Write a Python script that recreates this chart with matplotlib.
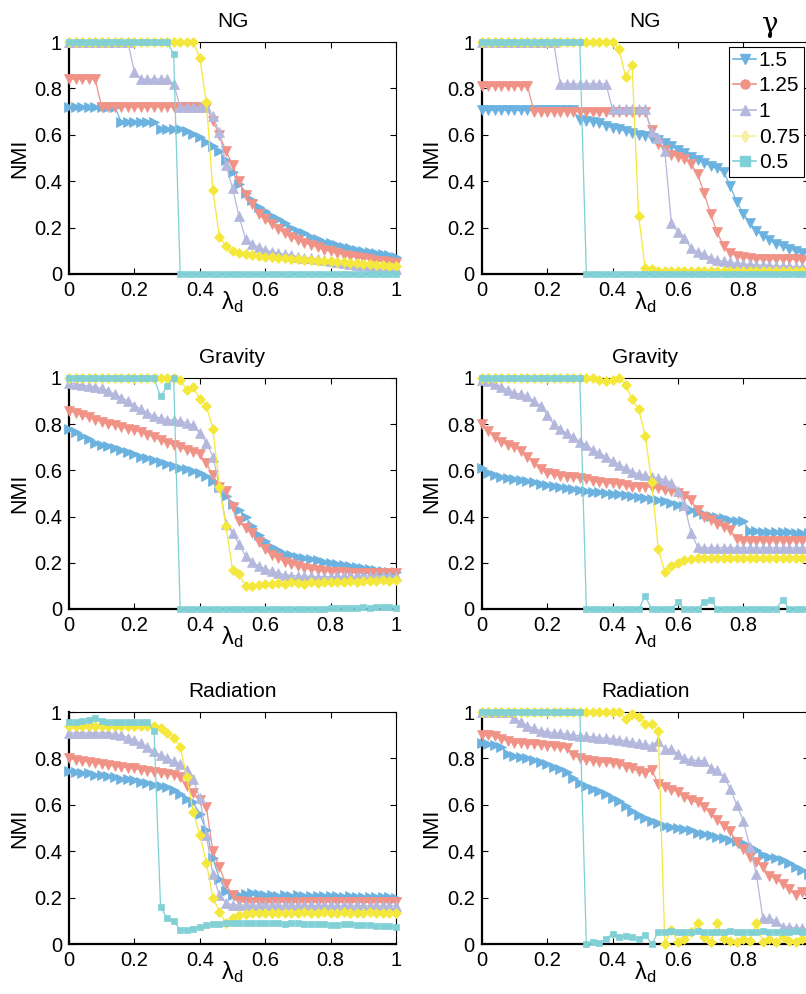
import numpy as np
import matplotlib
matplotlib.use('Agg')
import matplotlib.pyplot as plt
from matplotlib.lines import Line2D

plt.rcParams['font.family'] = ['Liberation Sans', 'DejaVu Sans']
plt.rcParams['mathtext.fontset'] = 'custom'
plt.rcParams['mathtext.rm'] = 'Liberation Sans'
plt.rcParams['mathtext.it'] = 'Liberation Sans'

# ---------------- data ----------------
lam = np.linspace(0, 1, 51)
gammas = ['1.5', '1.25', '1', '0.75', '0.5']
colors = ['#6cb2e0', '#f09286', '#b4b8dc', '#f5e83c', '#80d0d6']
tick_vals = [0, 0.2, 0.4, 0.6, 0.8, 1]
tick_labels = ['0', '0.2', '0.4', '0.6', '0.8', '1']
titles = ['NG', 'NG', 'Gravity', 'Gravity', 'Radiation', 'Radiation']

# NG, left
ng_l_15 = [0.72,0.72,0.72,0.72,0.72,0.72,0.72,0.72,0.655,0.655,0.655,0.655,0.655,0.655,
           0.625,0.625,0.625,0.625,0.615,0.605,0.59,0.57,0.55,0.53,0.49,0.44,0.39,0.35,
           0.32,0.29,0.27,0.25,0.235,0.22,0.2,0.185,0.175,0.16,0.15,0.14,0.132,0.125,0.118,
           0.112,0.105,0.1,0.095,0.09,0.085,0.08,0.075]
ng_l_125 = [0.84,0.84,0.84,0.84,0.84,0.72,0.72,0.72,0.72,0.72,0.72,0.72,0.72,0.72,0.72,
            0.72,0.72,0.72,0.72,0.72,0.72,0.72,0.66,0.60,0.53,0.47,0.40,0.34,0.30,0.26,
            0.235,0.215,0.195,0.175,0.16,0.145,0.135,0.125,0.115,0.105,0.097,0.09,0.083,
            0.077,0.072,0.068,0.063,0.058,0.054,0.05,0.046]
ng_l_1 = [1.0,1.0,1.0,1.0,1.0,1.0,1.0,1.0,1.0,1.0,0.87,0.84,0.84,0.84,0.84,0.84,0.82,
          0.72,0.72,0.72,0.72,0.72,0.68,0.61,0.47,0.37,0.25,0.15,0.13,0.115,0.105,0.095,
          0.09,0.085,0.08,0.075,0.07,0.068,0.065,0.06,0.055,0.05,0.047,0.044,0.04,0.037,
          0.034,0.03,0.028,0.025,0.022]
ng_l_075 = [1.0,1.0,1.0,1.0,1.0,1.0,1.0,1.0,1.0,1.0,1.0,1.0,1.0,1.0,1.0,1.0,1.0,1.0,1.0,1.0,
            0.93,0.74,0.36,0.16,0.12,0.10,0.09,0.085,0.08,0.078,0.075,0.072,0.07,0.068,
            0.066,0.064,0.062,0.06,0.058,0.056,0.054,0.052,0.05,0.048,0.046,0.044,0.042,
            0.04,0.038,0.036,0.034]
ng_l_05 = [1.0,1.0,1.0,1.0,1.0,1.0,1.0,1.0,1.0,1.0,1.0,1.0,1.0,1.0,1.0,1.0,0.95,
           0,0,0,0,0,0,0,0,0,0,0,0,0,0,0,0,0,0,0,0,0,0,0,0,0,0,0,0,0,0,0,0,0,0]

# NG, right
ng_r_15 = [0.705,0.705,0.705,0.705,0.705,0.705,0.705,0.705,0.705,0.705,0.705,0.705,0.705,
           0.705,0.705,0.665,0.66,0.655,0.65,0.64,0.63,0.625,0.615,0.607,0.6,0.595,0.588,
           0.578,0.566,0.55,0.535,0.52,0.505,0.493,0.48,0.465,0.455,0.44,0.38,0.31,0.26,
           0.22,0.185,0.165,0.145,0.13,0.12,0.108,0.1,0.092,0.085]
ng_r_125 = [0.81,0.81,0.81,0.81,0.81,0.81,0.81,0.81,0.70,0.70,0.70,0.70,0.70,0.70,0.70,0.70,
            0.70,0.70,0.70,0.70,0.70,0.70,0.70,0.70,0.70,0.70,0.62,0.56,0.535,0.515,0.505,
            0.495,0.475,0.43,0.35,0.26,0.18,0.12,0.09,0.078,0.072,0.068,0.066,0.065,0.065,
            0.064,0.064,0.063,0.063,0.062,0.062]
ng_r_1 = [1.0,1.0,1.0,1.0,1.0,1.0,1.0,1.0,1.0,1.0,1.0,1.0,0.82,0.82,0.82,0.82,0.82,0.82,
          0.82,0.82,0.71,0.71,0.71,0.71,0.71,0.71,0.61,0.585,0.53,0.22,0.18,0.155,0.11,
          0.095,0.085,0.07,0.06,0.055,0.05,0.046,0.043,0.041,0.04,0.038,0.037,0.035,0.034,
          0.033,0.032,0.031,0.03]
ng_r_075 = [1.0,1.0,1.0,1.0,1.0,1.0,1.0,1.0,1.0,1.0,1.0,1.0,1.0,1.0,1.0,1.0,1.0,1.0,1.0,
            1.0,1.0,0.97,0.85,0.90,0.25,0.025,0.02,0.015,0.015,0.012,0.012,0.012,0.012,
            0.012,0.012,0.012,0.012,0.012,0.012,0.012,0.012,0.012,0.012,0.012,0.012,0.012,
            0.012,0.012,0.012,0.012,0.012]
ng_r_05 = [1.0,1.0,1.0,1.0,1.0,1.0,1.0,1.0,1.0,1.0,1.0,1.0,1.0,1.0,1.0,1.0,
           0,0,0,0,0,0,0,0,0,0,0,0,0,0,0,0,0,0,0,0,0,0,0,0,0,0,0,0,0,0,0,0,0,0,0]

# Gravity, left
gr_l_15 = [0.78,0.765,0.75,0.735,0.72,0.71,0.705,0.695,0.69,0.68,0.672,0.66,0.652,0.645,
           0.635,0.628,0.62,0.612,0.605,0.598,0.59,0.575,0.555,0.53,0.49,0.455,0.43,0.40,
           0.36,0.32,0.295,0.27,0.255,0.24,0.232,0.226,0.222,0.215,0.21,0.205,0.2,0.195,
           0.19,0.186,0.182,0.178,0.174,0.17,0.166,0.162,0.16]
gr_l_125 = [0.855,0.85,0.84,0.83,0.82,0.81,0.80,0.795,0.79,0.78,0.775,0.765,0.755,0.745,
            0.73,0.72,0.71,0.70,0.69,0.68,0.67,0.63,0.58,0.53,0.51,0.44,0.38,0.35,0.33,
            0.29,0.26,0.235,0.22,0.205,0.195,0.185,0.178,0.172,0.168,0.165,0.162,0.16,
            0.16,0.158,0.158,0.157,0.157,0.156,0.156,0.155,0.155]
gr_l_1 = [0.98,0.975,0.97,0.965,0.96,0.955,0.945,0.93,0.915,0.90,0.88,0.865,0.85,0.835,
          0.825,0.82,0.818,0.815,0.805,0.795,0.76,0.72,0.66,0.53,0.37,0.33,0.28,0.23,
          0.205,0.185,0.175,0.165,0.155,0.148,0.145,0.143,0.142,0.141,0.14,0.14,0.14,
          0.141,0.142,0.142,0.143,0.143,0.144,0.144,0.145,0.145,0.145]
gr_l_075 = [1.0,1.0,1.0,1.0,1.0,1.0,1.0,1.0,1.0,1.0,1.0,1.0,1.0,1.0,1.0,1.0,1.0,0.99,0.95,
            0.96,0.91,0.88,0.78,0.53,0.36,0.17,0.15,0.10,0.10,0.105,0.11,0.108,0.112,0.11,
            0.115,0.112,0.11,0.115,0.113,0.117,0.115,0.118,0.116,0.12,0.118,0.12,0.122,
            0.12,0.124,0.122,0.125]
gr_l_05 = [1.0,1.0,1.0,1.0,1.0,1.0,1.0,1.0,1.0,1.0,1.0,1.0,1.0,1.0,0.92,0.965,1.0,
           0,0,0,0,0,0,0,0,0,0,0,0,0,0,0,0,0,0,0,0,0,0,0,
           0.004,0.005,0.006,0.005,0.006,0.007,0.006,0.007,0.008,0.007,0.006]

# Gravity, right
gr_r_15 = [0.61,0.59,0.58,0.573,0.568,0.563,0.558,0.553,0.548,0.543,0.537,0.532,0.527,
           0.522,0.518,0.515,0.512,0.508,0.505,0.502,0.5,0.497,0.494,0.49,0.486,0.482,
           0.477,0.472,0.466,0.46,0.452,0.445,0.43,0.418,0.41,0.403,0.397,0.392,0.387,
           0.383,0.38,0.338,0.336,0.335,0.335,0.334,0.333,0.332,0.331,0.33,0.33]
gr_r_125 = [0.80,0.77,0.745,0.725,0.71,0.70,0.685,0.66,0.63,0.605,0.59,0.583,0.577,0.573,
            0.57,0.566,0.562,0.556,0.55,0.547,0.544,0.54,0.535,0.53,0.53,0.53,0.528,0.522,
            0.515,0.51,0.502,0.49,0.47,0.43,0.40,0.385,0.37,0.355,0.34,0.305,0.296,0.294,
            0.295,0.296,0.294,0.295,0.296,0.295,0.294,0.295,0.295]
gr_r_1 = [0.99,0.985,0.975,0.96,0.95,0.935,0.93,0.92,0.90,0.88,0.84,0.80,0.78,0.76,0.745,
          0.725,0.71,0.69,0.675,0.66,0.64,0.625,0.61,0.595,0.585,0.578,0.57,0.565,0.56,
          0.545,0.51,0.45,0.33,0.27,0.265,0.265,0.266,0.265,0.264,0.265,0.266,0.265,0.264,
          0.265,0.266,0.265,0.264,0.265,0.265,0.266,0.265]
gr_r_075 = [1.0,1.0,1.0,1.0,1.0,1.0,1.0,1.0,1.0,1.0,1.0,1.0,1.0,1.0,1.0,1.0,1.0,1.0,0.99,
            0.985,0.99,1.0,0.97,0.91,0.865,0.75,0.55,0.26,0.16,0.185,0.2,0.212,0.218,0.22,
            0.222,0.22,0.219,0.221,0.22,0.222,0.22,0.219,0.221,0.22,0.222,0.22,0.219,0.221,
            0.22,0.22,0.221]
gr_r_05 = [1.0,1.0,1.0,1.0,1.0,1.0,1.0,1.0,1.0,1.0,1.0,1.0,1.0,1.0,1.0,1.0,
           0,0,0,0,0,0,0,0,0,0.055,0,0,0,0,0.03,0,0,0,0.03,0.04,0,0,0,0,0,0,0,0,0,0,0.04,
           0,0,0,0]

# Radiation, left
rd_l_15 = [0.745,0.742,0.738,0.735,0.73,0.727,0.722,0.718,0.713,0.71,0.705,0.70,0.693,
           0.686,0.68,0.675,0.665,0.645,0.625,0.61,0.56,0.49,0.37,0.28,0.23,0.21,0.21,
           0.215,0.22,0.215,0.21,0.212,0.208,0.21,0.207,0.21,0.206,0.208,0.205,0.207,
           0.205,0.206,0.204,0.205,0.203,0.204,0.202,0.203,0.201,0.202,0.2]
rd_l_125 = [0.80,0.795,0.79,0.785,0.78,0.775,0.77,0.767,0.764,0.76,0.757,0.752,0.747,0.742,
            0.737,0.733,0.73,0.72,0.68,0.65,0.62,0.59,0.40,0.33,0.26,0.21,0.185,0.18,
            0.182,0.18,0.178,0.18,0.182,0.18,0.178,0.18,0.181,0.179,0.18,0.181,0.18,0.179,
            0.18,0.181,0.18,0.179,0.18,0.18,0.181,0.18,0.18]
rd_l_1 = [0.91,0.91,0.91,0.91,0.91,0.91,0.91,0.905,0.90,0.89,0.88,0.865,0.85,0.83,0.815,
          0.80,0.79,0.775,0.75,0.71,0.63,0.47,0.30,0.21,0.175,0.17,0.168,0.168,0.167,0.168,
          0.167,0.168,0.167,0.166,0.167,0.166,0.167,0.166,0.166,0.167,0.166,0.165,0.166,
          0.165,0.166,0.165,0.165,0.166,0.165,0.165,0.165]
rd_l_075 = [0.94,0.94,0.94,0.94,0.94,0.94,0.94,0.94,0.94,0.94,0.94,0.94,0.94,0.94,0.93,
            0.91,0.89,0.85,0.72,0.57,0.47,0.35,0.20,0.14,0.09,0.11,0.125,0.13,0.132,0.133,
            0.134,0.133,0.135,0.134,0.135,0.134,0.136,0.135,0.134,0.136,0.135,0.134,0.136,
            0.135,0.134,0.135,0.136,0.135,0.134,0.135,0.135]
rd_l_05 = [0.955,0.955,0.96,0.965,0.975,0.96,0.955,0.955,0.955,0.955,0.955,0.955,0.955,0.92,
           0.16,0.11,0.10,0.06,0.06,0.065,0.075,0.08,0.085,0.088,0.09,0.09,0.091,0.09,0.092,
           0.09,0.09,0.089,0.09,0.088,0.089,0.09,0.088,0.087,0.086,0.085,0.082,0.084,0.086,
           0.085,0.083,0.082,0.08,0.079,0.077,0.076,0.074]

# Radiation, right
rd_r_15 = [0.865,0.862,0.858,0.85,0.82,0.81,0.805,0.80,0.795,0.785,0.775,0.765,0.755,0.742,
           0.715,0.695,0.68,0.67,0.66,0.645,0.63,0.615,0.595,0.575,0.558,0.543,0.532,0.52,
           0.508,0.503,0.5,0.497,0.49,0.48,0.474,0.468,0.463,0.457,0.45,0.445,0.435,0.42,
           0.405,0.385,0.375,0.37,0.362,0.35,0.33,0.318,0.30]
rd_r_125 = [0.90,0.90,0.895,0.885,0.875,0.868,0.865,0.862,0.86,0.857,0.855,0.852,0.848,
            0.845,0.815,0.80,0.795,0.79,0.785,0.783,0.78,0.775,0.765,0.757,0.745,0.735,
            0.75,0.69,0.675,0.665,0.655,0.635,0.62,0.61,0.59,0.565,0.535,0.51,0.485,0.44,
            0.41,0.375,0.355,0.33,0.295,0.28,0.26,0.235,0.21,0.225,0.2]
rd_r_1 = [1.0,1.0,1.0,1.0,1.0,0.975,0.955,0.94,0.93,0.92,0.915,0.91,0.908,0.905,0.9,0.898,
          0.895,0.892,0.89,0.887,0.885,0.88,0.875,0.87,0.865,0.86,0.855,0.875,0.84,0.84,
          0.82,0.80,0.795,0.79,0.79,0.76,0.75,0.72,0.67,0.60,0.53,0.42,0.30,0.11,0.11,0.10,
          0.075,0.072,0.07,0.068,0.065]
rd_r_075 = [1.0,1.0,1.0,1.0,1.0,1.0,1.0,1.0,1.0,1.0,1.0,1.0,1.0,1.0,1.0,1.0,1.0,1.0,1.0,
            1.0,1.0,1.0,0.97,0.99,0.98,0.95,0.95,0.92,0.0,0.06,0.01,0.02,0.05,0.09,0.03,
            0.01,0.09,0.02,0.015,0.01,0.02,0.015,0.09,0.01,0.02,0.01,0.03,0.015,0.01,0.02,
            0.02]
rd_r_05 = [1.0,1.0,1.0,1.0,1.0,1.0,1.0,1.0,1.0,1.0,1.0,1.0,1.0,1.0,1.0,1.0,0.0,0.01,0.005,
           0.02,0.045,0.03,0.035,0.03,0.02,0.04,0.0,0.053,0.053,0.054,0.053,0.052,0.053,
           0.054,0.053,0.053,0.052,0.053,0.054,0.053,0.053,0.052,0.053,0.054,0.053,0.053,
           0.052,0.053,0.054,0.053,0.053]

panels = [
    [ng_l_15, ng_l_125, ng_l_1, ng_l_075, ng_l_05],
    [ng_r_15, ng_r_125, ng_r_1, ng_r_075, ng_r_05],
    [gr_l_15, gr_l_125, gr_l_1, gr_l_075, gr_l_05],
    [gr_r_15, gr_r_125, gr_r_1, gr_r_075, gr_r_05],
    [rd_l_15, rd_l_125, rd_l_1, rd_l_075, rd_l_05],
    [rd_r_15, rd_r_125, rd_r_1, rd_r_075, rd_r_05],
]

# ---------------- drawing ----------------
W, H = 806, 994
fig = plt.figure(figsize=(W / 100, H / 100), dpi=100)

col_x = [69 / W, 481.7 / W]
ax_w = 327 / W
rows = [(42, 274), (378, 609), (712, 944)]

marker_sets = [['>', 'v', '^', 'D', 's'], ['v', 'v', '^', 'D', 's']]
msizes = [7.5, 7.5, 7.5, 4.6, 4.8]

axes = []
for k, series in enumerate(panels):
    r, c = divmod(k, 2)
    top, bot = rows[r]
    ax = fig.add_axes([col_x[c], 1 - bot / H, ax_w, (bot - top) / H])
    axes.append(ax)
    mk = marker_sets[1] if k == 1 else marker_sets[0]
    for j, vals in enumerate(series):
        ax.plot(lam, vals, color=colors[j], lw=0.9, marker=mk[j], ms=msizes[j],
                mec=colors[j], mfc=colors[j], mew=0.5, clip_on=False, zorder=2 + j)
    ax.set_xlim(0, 1)
    ax.set_ylim(0, 1)
    ax.set_xticks(tick_vals)
    # the right-hand column is cut by the image edge: its last x label falls outside
    ax.set_xticklabels(tick_labels if c == 0 else tick_labels[:-1] + [''])
    ax.set_yticks(tick_vals)
    ax.set_yticklabels(tick_labels)
    ax.tick_params(direction='in', length=4, width=0.8, top=True, right=True,
                   labelsize=14.5, pad=5)
    for s in ['left', 'bottom']:
        ax.spines[s].set_linewidth(1.6)
    for s in ['top', 'right']:
        ax.spines[s].set_linewidth(0.8)
    for s in ax.spines.values():
        s.set_zorder(1)
    ax.set_title(titles[k], fontsize=15, pad=11)
    ax.set_ylabel('NMI', fontsize=15.5, labelpad=3)
    ax.set_xlabel(r'$\mathregular{\lambda_d}$', fontsize=17, labelpad=-8)

leg_markers = ['v', 'o', '^', 'd', 's']
leg_colors = ['#6cb2e0', '#f09286', '#b4b8dc', '#f7f0a4', '#80d0d6']
handles = [Line2D([0], [0], color=leg_colors[j], marker=leg_markers[j], ms=6.5,
                  mec=leg_colors[j], lw=1.2) for j in range(5)]
leg = axes[1].legend(handles, gammas, loc='upper left', bbox_to_anchor=(0.757, 0.98),
                     borderaxespad=0, fontsize=15, frameon=True, fancybox=False,
                     framealpha=1, edgecolor='black', handlelength=1.1,
                     handletextpad=0.12, labelspacing=0.32, borderpad=0.2)
leg.get_frame().set_linewidth(0.8)
leg.set_zorder(20)

fig.text(770 / W, 1 - 25 / H, 'γ', fontsize=20, ha='center', va='center',
         family=['DejaVu Serif'])

fig.savefig('out.png', dpi=100)
